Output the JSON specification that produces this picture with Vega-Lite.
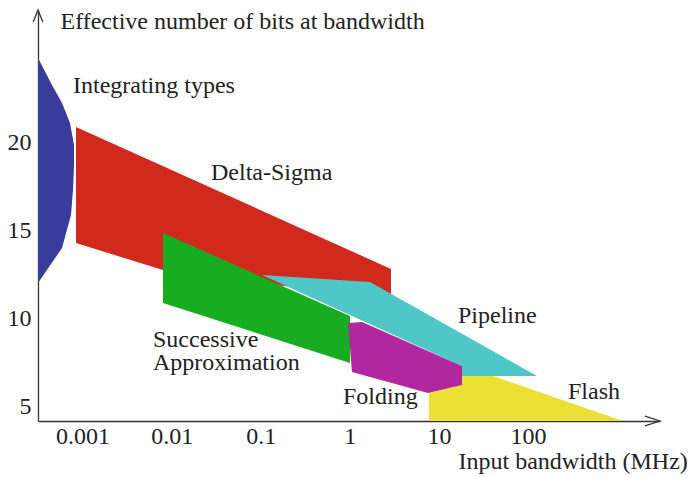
{
  "$schema": "https://vega.github.io/schema/vega-lite/v6.json",
  "width": 622,
  "height": 411,
  "autosize": {"type": "none"},
  "padding": {"left": 38, "top": 10, "right": 28, "bottom": 56},
  "background": "white",
  "config": {"view": {"stroke": null}, "font": "Liberation Serif"},
  "datasets": {
    "regions": [
      {"r": "blue", "i": 0, "x": 0.00031623, "y": 24.77},
      {"r": "blue", "i": 1, "x": 0.000454, "y": 23.24},
      {"r": "blue", "i": 2, "x": 0.000588, "y": 22.22},
      {"r": "blue", "i": 3, "x": 0.000723, "y": 21.08},
      {"r": "blue", "i": 4, "x": 0.000802, "y": 19.84},
      {"r": "blue", "i": 5, "x": 0.000802, "y": 18.70},
      {"r": "blue", "i": 6, "x": 0.000781, "y": 17.28},
      {"r": "blue", "i": 7, "x": 0.000742, "y": 15.86},
      {"r": "blue", "i": 8, "x": 0.000588, "y": 13.99},
      {"r": "blue", "i": 9, "x": 0.00031623, "y": 12.00},
      {"r": "red", "i": 0, "x": 0.000844, "y": 20.86},
      {"r": "red", "i": 1, "x": 2.896, "y": 12.80},
      {"r": "red", "i": 2, "x": 2.896, "y": 11.04},
      {"r": "red", "i": 3, "x": 0.0080, "y": 12.74},
      {"r": "red", "i": 4, "x": 0.000844, "y": 14.27},
      {"r": "yellow", "i": 0, "x": 7.73, "y": 4.17},
      {"r": "yellow", "i": 1, "x": 7.73, "y": 5.76},
      {"r": "yellow", "i": 2, "x": 18.14, "y": 6.215},
      {"r": "yellow", "i": 3, "x": 18.14, "y": 6.725},
      {"r": "yellow", "i": 4, "x": 40.43, "y": 6.725},
      {"r": "yellow", "i": 5, "x": 1163, "y": 4.17},
      {"r": "cyan", "i": 0, "x": 0.1033, "y": 12.46},
      {"r": "cyan", "i": 1, "x": 1.684, "y": 12.06},
      {"r": "cyan", "i": 2, "x": 126.0, "y": 6.725},
      {"r": "cyan", "i": 3, "x": 18.14, "y": 6.725},
      {"r": "cyan", "i": 4, "x": 18.14, "y": 7.29},
      {"r": "green", "i": 0, "x": 0.0080, "y": 14.84},
      {"r": "green", "i": 1, "x": 1.004, "y": 10.13},
      {"r": "green", "i": 2, "x": 1.004, "y": 7.46},
      {"r": "green", "i": 3, "x": 0.0080, "y": 10.87},
      {"r": "magenta", "i": 0, "x": 0.953, "y": 9.73},
      {"r": "magenta", "i": 1, "x": 1.369, "y": 9.79},
      {"r": "magenta", "i": 2, "x": 18.14, "y": 7.29},
      {"r": "magenta", "i": 3, "x": 18.14, "y": 6.215},
      {"r": "magenta", "i": 4, "x": 7.54, "y": 5.76},
      {"r": "magenta", "i": 5, "x": 1.057, "y": 6.95}
    ],
    "labels": [
      {"t": "Integrating types", "x": 0.000781, "y": 22.79},
      {"t": "Delta-Sigma", "x": 0.02764, "y": 17.85},
      {"t": "Successive", "x": 0.006176, "y": 8.37},
      {"t": "Approximation", "x": 0.006176, "y": 7.07},
      {"t": "Pipeline", "x": 16.36, "y": 9.73},
      {"t": "Folding", "x": 0.838, "y": 5.13},
      {"t": "Flash", "x": 280.8, "y": 5.42}
    ]
  },
  "encoding": {
    "x": {
      "field": "x", "type": "quantitative",
      "scale": {"type": "log", "domain": [0.00031623, 3027], "nice": false},
      "axis": {
        "values": [0.001, 0.01, 0.1, 1, 10, 100], "format": "~g",
        "ticks": false, "tickSize": 0, "grid": false,
        "domainColor": "#333333", "domainWidth": 1.3,
        "labelFont": "Liberation Serif", "labelFontSize": 24, "labelColor": "#222222",
        "labelPadding": 22, "labelBaseline": "alphabetic", "labelFlush": false, "labelOverlap": false,
        "title": "Input bandwidth (MHz)", "titleFont": "Liberation Serif", "titleFontSize": 24,
        "titleFontWeight": "normal", "titleColor": "#222222",
        "titleX": 420, "titleY": 47, "titleAlign": "left", "titleBaseline": "alphabetic", "titleAngle": 0
      }
    },
    "y": {
      "field": "y", "type": "quantitative",
      "scale": {"type": "linear", "domain": [4.17, 27.5], "nice": false, "zero": false},
      "axis": {
        "values": [5, 10, 15, 20], "format": "d",
        "ticks": false, "tickSize": 0, "grid": false,
        "domainColor": "#333333", "domainWidth": 1.3,
        "labelFont": "Liberation Serif", "labelFontSize": 24, "labelColor": "#222222",
        "labelPadding": 7, "labelBaseline": "middle", "labelFlush": false, "labelOverlap": false,
        "title": "Effective number of bits at bandwidth", "titleFont": "Liberation Serif", "titleFontSize": 24,
        "titleFontWeight": "normal", "titleColor": "#222222",
        "titleX": 22, "titleY": 18, "titleAlign": "left", "titleBaseline": "alphabetic", "titleAngle": 0
      }
    }
  },
  "layer": [
    {
      "data": {"name": "regions"},
      "transform": [{"filter": "datum.r === 'blue'"}],
      "mark": {"type": "line", "interpolate": "linear-closed", "fill": "#393c9b", "stroke": "#393c9b", "strokeWidth": 0},
      "encoding": {"order": {"field": "i", "type": "quantitative"}}
    },
    {
      "data": {"name": "regions"},
      "transform": [{"filter": "datum.r === 'red'"}],
      "mark": {"type": "line", "interpolate": "linear-closed", "fill": "#d1291c", "stroke": "#d1291c", "strokeWidth": 0},
      "encoding": {"order": {"field": "i", "type": "quantitative"}}
    },
    {
      "data": {"name": "regions"},
      "transform": [{"filter": "datum.r === 'yellow'"}],
      "mark": {"type": "line", "interpolate": "linear-closed", "fill": "#ebe034", "stroke": "#ebe034", "strokeWidth": 0},
      "encoding": {"order": {"field": "i", "type": "quantitative"}}
    },
    {
      "data": {"name": "regions"},
      "transform": [{"filter": "datum.r === 'cyan'"}],
      "mark": {"type": "line", "interpolate": "linear-closed", "fill": "#4ec7c6", "stroke": "#4ec7c6", "strokeWidth": 0},
      "encoding": {"order": {"field": "i", "type": "quantitative"}}
    },
    {
      "data": {"name": "regions"},
      "transform": [{"filter": "datum.r === 'green'"}],
      "mark": {"type": "line", "interpolate": "linear-closed", "fill": "#18ad20", "stroke": "#18ad20", "strokeWidth": 0},
      "encoding": {"order": {"field": "i", "type": "quantitative"}}
    },
    {
      "data": {"name": "regions"},
      "transform": [{"filter": "datum.r === 'magenta'"}],
      "mark": {"type": "line", "interpolate": "linear-closed", "fill": "#b027a0", "stroke": "#b027a0", "strokeWidth": 0},
      "encoding": {"order": {"field": "i", "type": "quantitative"}}
    },
    {
      "data": {"values": [{"x": 0.00031623, "y": 27.5}]},
      "mark": {"type": "point", "shape": "M-0.4,1L0,0L0.4,1", "size": 576, "filled": false, "stroke": "#333333", "strokeWidth": 1.3, "opacity": 1}
    },
    {
      "data": {"values": [{"x": 3027, "y": 4.17}]},
      "mark": {"type": "point", "shape": "M-1,-0.33L0,0L-1,0.33", "size": 900, "filled": false, "stroke": "#333333", "strokeWidth": 1.3, "opacity": 1}
    },
    {
      "data": {"name": "labels"},
      "mark": {"type": "text", "align": "left", "baseline": "alphabetic", "font": "Liberation Serif", "fontSize": 24, "color": "#222222"},
      "encoding": {"text": {"field": "t"}}
    }
  ]
}
